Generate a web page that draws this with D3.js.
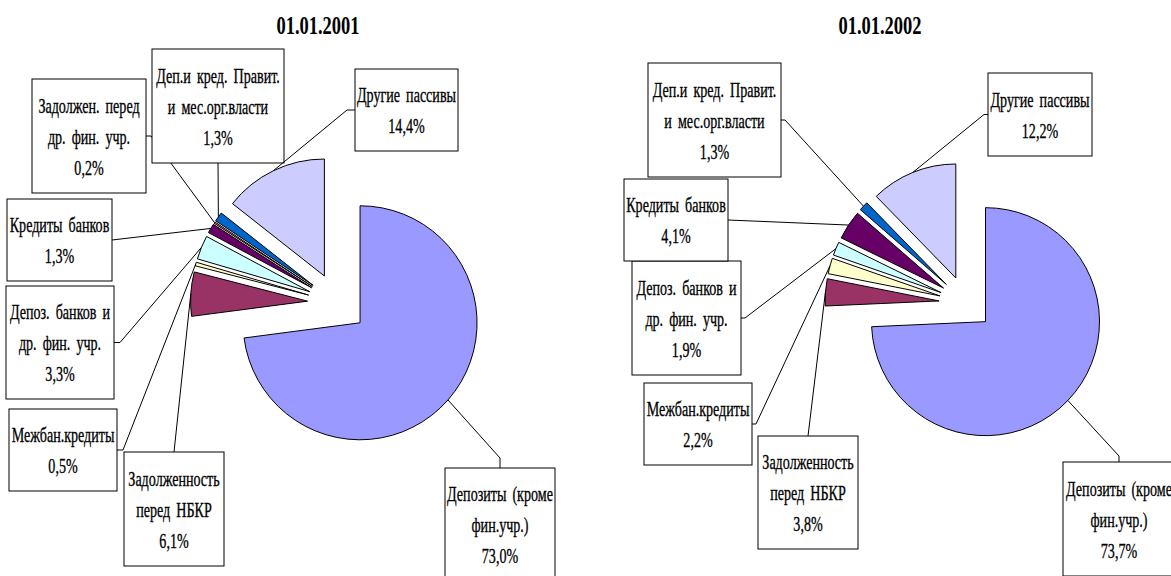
<!DOCTYPE html>
<html>
<head>
<meta charset="utf-8">
<script src="https://cdn.jsdelivr.net/npm/d3@7"></script>
<style>
  body { margin: 0; background: #fff; }
  svg { display: block; }
</style>
</head>
<body>
<div id="chart"></div>
<script>
// categories in the order the slices run clockwise from 12 o'clock
var categories = [
  "Депозиты (кроме\nфин.учр.)",
  "Задолженность\nперед НБКР",
  "Межбан.кредиты",
  "Депоз. банков и\nдр. фин. учр.",
  "Кредиты банков",
  "Задолжен. перед\nдр. фин. учр.",
  "Деп.и кред. Правит.\nи мес.орг.власти",
  "Другие пассивы"
];
var values2001 = [73.0, 6.1, 0.5, 3.3, 1.3, 0.2, 1.3, 14.4];
var values2002 = [73.7, 3.8, 2.2, 1.9, 4.1, 0, 1.3, 12.2];
var titles = ["01.01.2001", "01.01.2002"];

var colors = ["#9999FF", "#993366", "#FFFFCC", "#CCFFFF", "#660066", "#FF8080", "#0066CC", "#CCCCFF"];

var width = 1171, height = 576;

// label boxes (x, y, w, h), side the leader leaves from, and stub length
var boxes2001 = [
  {x: 445, y: 468, w: 110, h: 112, side: "top", stub: 10},
  {x: 124, y: 452, w: 100, h: 114, side: "top", stub: 0},
  {x: 9, y: 409, w: 108, h: 82, side: "right", stub: 6},
  {x: 6, y: 286, w: 108, h: 113, side: "right", stub: 6},
  {x: 7, y: 199, w: 105, h: 82, side: "right", stub: 0},
  {x: 32, y: 79, w: 114, h: 114, side: "right", stub: 5},
  {x: 152, y: 49, w: 132, h: 114, side: "bottom", stub: 0},
  {x: 355, y: 69, w: 103, h: 82, side: "left", stub: 8}
];
var boxes2002 = [
  {x: 1063, y: 462, w: 112, h: 114, side: "top", stub: 6},
  {x: 758, y: 436, w: 100, h: 113, side: "top", stub: 0},
  {x: 644, y: 383, w: 108, h: 82, side: "right", stub: 4},
  {x: 632, y: 261, w: 109, h: 114, side: "right", stub: 4},
  {x: 624, y: 179, w: 104, h: 82, side: "right", stub: 0},
  null,
  {x: 648, y: 63, w: 133, h: 114, side: "right", stub: 4},
  {x: 988, y: 73, w: 104, h: 83, side: "left", stub: 4}
];

var charts = [
  {title: titles[0], values: values2001, boxes: boxes2001, cx: 337.5, cy: 303, r: 117, explode: 30, titleX: 318},
  {title: titles[1], values: values2002, boxes: boxes2002, cx: 966, cy: 303, r: 114, explode: 27, titleX: 880}
];

var svg = d3.select("#chart")
  .append("svg")
  .attr("width", width)
  .attr("height", height);

var pie = d3.pie().sort(null).value(function(d) { return d; });

var fmt = function(v) { return v.toFixed(1).replace(".", ",") + "%"; };

charts.forEach(function(c) {
  var arcs = pie(c.values);
  var arc = d3.arc().innerRadius(0).outerRadius(c.r);

  // title
  svg.append("text")
    .attr("transform", "translate(" + c.titleX + ",34) scale(0.74,1)")
    .attr("text-anchor", "middle")
    .style("font-family", "'Liberation Serif', serif")
    .style("font-weight", "bold")
    .style("font-size", "25px")
    .text(c.title);

  var g = svg.append("g");

  // exploded slices
  arcs.forEach(function(d, i) {
    if (d.value <= 0) return;
    var a = (d.startAngle + d.endAngle) / 2;
    var ox = c.cx + c.explode * Math.sin(a),
        oy = c.cy - c.explode * Math.cos(a);
    g.append("path")
      .attr("d", arc(d))
      .attr("transform", "translate(" + ox + "," + oy + ")")
      .attr("fill", colors[i])
      .attr("stroke", "#000")
      .attr("stroke-width", 1);
  });

  // leader lines + boxes
  arcs.forEach(function(d, i) {
    var b = c.boxes[i];
    if (!b || d.value <= 0) return;
    var a = (d.startAngle + d.endAngle) / 2;
    var ex = c.cx + (c.explode + c.r) * Math.sin(a),
        ey = c.cy - (c.explode + c.r) * Math.cos(a);

    var sx, sy, tx, ty;
    if (b.side == "right") { sx = b.x + b.w; sy = b.y + b.h / 2; tx = sx + b.stub; ty = sy; }
    else if (b.side == "left") { sx = b.x; sy = b.y + b.h / 2; tx = sx - b.stub; ty = sy; }
    else if (b.side == "top") { sx = b.x + b.w / 2; sy = b.y; tx = sx; ty = sy - b.stub; }
    else { sx = b.x + b.w / 2; sy = b.y + b.h; tx = sx; ty = sy + b.stub; }

    svg.append("polyline")
      .attr("points", [[sx, sy], [tx, ty], [ex, ey]].map(function(p) { return p.join(","); }).join(" "))
      .attr("fill", "none")
      .attr("stroke", "#000")
      .attr("stroke-width", 1);

    svg.append("rect")
      .attr("x", b.x).attr("y", b.y)
      .attr("width", b.w).attr("height", b.h)
      .attr("fill", "#fff")
      .attr("stroke", "#000")
      .attr("stroke-width", 1);

    var lines = categories[i].split("\n").concat([fmt(d.value)]);
    var midX = b.x + b.w / 2, midY = b.y + b.h / 2;
    var lab = svg.append("g")
      .attr("transform", "translate(" + midX + "," + midY + ") scale(0.64,1)");
    lines.forEach(function(t, k) {
      lab.append("text")
        .attr("x", 0)
        .attr("y", (k - (lines.length - 1) / 2) * 31)
        .attr("dy", "0.35em")
        .attr("text-anchor", "middle")
        .attr("stroke", "#000")
        .attr("stroke-width", 0.35)
        .style("font-family", "'Liberation Serif', serif")
        .style("font-size", "22px")
        .style("word-spacing", "4px")
        .text(t);
    });
  });
});
</script>
</body>
</html>
